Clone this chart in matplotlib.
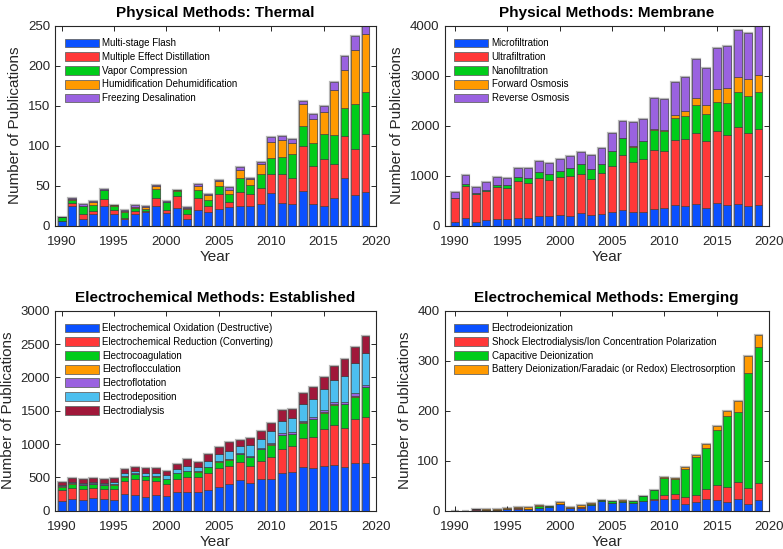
import numpy as np
import matplotlib
matplotlib.use('Agg')
from matplotlib import pyplot as plt

years = list(range(1990, 2020))

# Physical Methods: Thermal
msf = [6, 25, 8, 14, 25, 14, 8, 15, 17, 25, 16, 22, 8, 20, 17, 21, 23, 25, 24, 27, 41, 28, 27, 43, 27, 25, 35, 59, 38, 42]
med = [0, 3, 7, 4, 8, 6, 2, 3, 1, 10, 3, 15, 6, 15, 8, 18, 7, 17, 15, 20, 24, 36, 33, 56, 48, 58, 42, 53, 58, 73]
vc = [5, 4, 10, 8, 12, 5, 7, 4, 3, 11, 10, 6, 7, 10, 7, 11, 10, 17, 12, 17, 19, 22, 30, 26, 28, 32, 36, 35, 56, 52]
hdh = [0, 1, 0, 4, 0, 0.5, 1, 1, 2, 4, 1, 1, 1, 5, 6, 6, 5, 10, 7, 13, 21, 21, 13, 27, 30, 27, 57, 48, 67, 72]
fd = [0, 1, 2, 0.5, 1, 0.5, 1, 3, 1, 1, 1, 1, 1, 2, 1, 1, 3, 4, 2, 3, 6, 5, 5, 4, 7, 8, 10, 17, 18, 12]

# Physical Methods: Membrane
mf = [70, 160, 80, 113, 133, 133, 153, 153, 193, 193, 207, 193, 247, 213, 240, 267, 320, 280, 280, 333, 347, 413, 387, 433, 347, 453, 420, 440, 393, 413]
uf = [480, 640, 545, 587, 647, 614, 734, 694, 760, 720, 760, 807, 780, 727, 807, 926, 1093, 987, 1053, 1187, 1140, 1294, 1340, 1427, 1353, 1447, 1393, 1540, 1467, 1514]
nf = [10, 25, 35, 13, 40, 66, 86, 100, 120, 120, 133, 147, 213, 193, 180, 294, 334, 313, 354, 393, 400, 440, 460, 553, 527, 580, 634, 700, 733, 746]
fo = [0, 0, 0, 0, 0, 0, 0, 0, 0, 0, 0, 0, 0, 0, 0, 0, 0, 8, 10, 30, 26, 66, 106, 147, 180, 247, 300, 287, 334, 334]
ro = [110, 190, 120, 154, 160, 134, 180, 206, 214, 214, 233, 253, 240, 287, 326, 366, 353, 477, 430, 606, 620, 654, 687, 767, 746, 820, 840, 946, 920, 986]

# Electrochemical Methods: Established
e_ox = [150, 170, 155, 190, 170, 160, 245, 235, 205, 230, 215, 280, 280, 280, 305, 350, 395, 455, 420, 470, 470, 570, 575, 655, 640, 670, 685, 660, 710, 710]
e_red = [155, 175, 165, 155, 150, 170, 195, 245, 250, 210, 190, 190, 220, 225, 255, 285, 275, 280, 245, 270, 330, 350, 395, 435, 465, 550, 595, 580, 665, 700]
e_coag = [55, 60, 65, 55, 65, 60, 70, 70, 60, 70, 65, 90, 90, 80, 90, 100, 95, 110, 135, 180, 190, 215, 180, 230, 265, 250, 310, 355, 335, 440]
e_floc = [5, 5, 5, 5, 5, 5, 5, 5, 5, 5, 5, 5, 5, 5, 5, 5, 5, 5, 5, 5, 5, 5, 5, 5, 5, 5, 5, 5, 10, 5]
e_flot = [10, 5, 5, 5, 5, 5, 5, 5, 5, 5, 5, 5, 5, 5, 5, 5, 5, 10, 10, 15, 20, 25, 30, 25, 35, 35, 30, 35, 40, 30]
e_dep = [15, 20, 25, 25, 25, 30, 45, 30, 40, 45, 55, 50, 65, 60, 90, 100, 120, 115, 165, 140, 180, 185, 200, 245, 270, 315, 340, 385, 460, 475]
e_dial = [35, 50, 55, 60, 50, 65, 60, 70, 80, 75, 65, 75, 110, 75, 100, 105, 130, 80, 115, 110, 125, 165, 145, 170, 180, 185, 200, 250, 240, 255]

# Electrochemical Methods: Emerging
edi = [0, 0, 2, 2, 2, 3, 4, 3, 6, 8, 13, 5, 6, 11, 20, 16, 17, 15, 19, 21, 24, 23, 13, 17, 24, 21, 17, 23, 13, 21]
sedi = [0, 0, 1, 0, 0, 0, 1, 1, 0, 0, 1, 1, 2, 1, 0, 0, 0, 0, 0, 3, 8, 10, 14, 15, 20, 30, 31, 34, 32, 34]
cdi = [0, 0, 0, 0, 0, 1, 0, 0, 4, 1, 0, 0, 0, 1, 1, 3, 3, 4, 10, 17, 34, 30, 56, 76, 81, 110, 141, 141, 230, 272]
bdi = [0, 0, 1, 1, 1, 1, 3, 3, 2, 0, 4, 1, 3, 2, 1, 1, 2, 1, 1, 1, 1, 2, 4, 4, 9, 8, 10, 21, 34, 25]

blue = '#0A50FF'
red = '#FF3838'
green = '#00CC1A'
orange = '#FF9A00'
purple = '#9A62E0'
light_blue = '#4CBFEF'
maroon = '#A0183A'

plt.rcParams['font.family'] = ['Liberation Sans', 'DejaVu Sans']


def stacked_panel(ax, series, labels, colors, title, ymax, ystep, xmin):
    bottom = np.zeros(len(years))
    total = np.sum(np.array(series, dtype=float), axis=0)
    # light grey halo round each bar
    ax.bar(years, total, width=0.75, color='none', edgecolor='#b8b8b8', linewidth=1.6, zorder=1)
    for vals, lab, col in zip(series, labels, colors):
        ax.bar(years, vals, bottom=bottom, width=0.75, color=col, edgecolor='#333333',
               linewidth=0.4, label=lab, zorder=2)
        bottom = bottom + np.array(vals, dtype=float)

    ax.set_xlim(xmin, 2020)
    ax.set_ylim(0, ymax)
    ax.set_xticks(range(1990, 2021, 5))
    ax.set_yticks(np.arange(0, ymax + 1, ystep))
    ax.tick_params(direction='in', top=True, right=True, length=3.5, width=0.7,
                   labelsize=9.5, colors='#262626')
    ax.tick_params(axis='x', pad=7.5)
    for sp in ax.spines.values():
        sp.set_linewidth(0.8)
        sp.set_color('#262626')
    ax.set_title(title, fontsize=11, fontweight='bold')
    ax.set_xlabel('Year', fontsize=11, color='#262626', labelpad=1.5)
    ax.set_ylabel('Number of Publications', fontsize=11, color='#262626')
    leg = ax.legend(loc='upper left', bbox_to_anchor=(0, 0.985), frameon=False, fontsize=7,
                    handlelength=3.5, handleheight=1.0, labelspacing=0.38,
                    handletextpad=0.35, borderaxespad=0.6)
    for h in leg.legend_handles:
        h.set_edgecolor('#666666')
        h.set_linewidth(0.6)


fig = plt.figure(figsize=(7.83, 5.49), dpi=100)
ax1 = fig.add_axes([0.0702, 0.5889, 0.4100, 0.3643])
ax2 = fig.add_axes([0.5677, 0.5889, 0.4144, 0.3643])
ax3 = fig.add_axes([0.0702, 0.0698, 0.4100, 0.3643])
ax4 = fig.add_axes([0.5677, 0.0698, 0.4144, 0.3643])

stacked_panel(ax1, [msf, med, vc, hdh, fd],
              ['Multi-stage Flash', 'Multiple Effect Distillation', 'Vapor Compression',
               'Humidification Dehumidification', 'Freezing Desalination'],
              [blue, red, green, orange, purple],
              'Physical Methods: Thermal', 250, 50, 1989.36)

stacked_panel(ax2, [mf, uf, nf, fo, ro],
              ['Microfiltration', 'Ultrafiltration', 'Nanofiltration', 'Forward Osmosis', 'Reverse Osmosis'],
              [blue, red, green, orange, purple],
              'Physical Methods: Membrane', 4000, 1000, 1989)

stacked_panel(ax3, [e_ox, e_red, e_coag, e_floc, e_flot, e_dep, e_dial],
              ['Electrochemical Oxidation (Destructive)', 'Electrochemical Reduction (Converting)',
               'Electrocoagulation', 'Electroflocculation', 'Electroflotation',
               'Electrodeposition', 'Electrodialysis'],
              [blue, red, green, orange, purple, light_blue, maroon],
              'Electrochemical Methods: Established', 3000, 500, 1989.36)

stacked_panel(ax4, [edi, sedi, cdi, bdi],
              ['Electrodeionization', 'Shock Electrodialysis/Ion Concentration Polarization',
               'Capacitive Deionization', 'Battery Deionization/Faradaic (or Redox) Electrosorption'],
              [blue, red, green, orange],
              'Electrochemical Methods: Emerging', 400, 100, 1989)

fig.savefig('out.png', dpi=100)
